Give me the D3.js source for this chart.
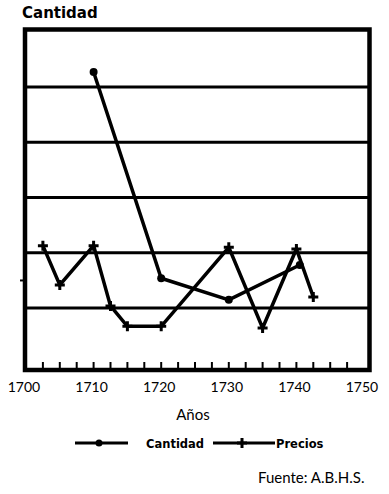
<!DOCTYPE html>
<meta charset="utf-8">
<style>
body { margin: 0; background: #fff; }
text { font-family: Lato, "DejaVu Sans", sans-serif; fill: #000; }
.title, .legendLabel { font-family: "DejaVu Sans", sans-serif; font-weight: bold; }
</style>
<body>
<script src="https://d3js.org/d3.v7.min.js"></script>
<script>
// values (y in grid units, gridlines at 1..5)
const precioYears  = [1702.5, 1705, 1710, 1712.5, 1715, 1720, 1730, 1735, 1740, 1742.5];
const precioVals   = [2.13, 1.42, 2.13, 1.04, 0.67, 0.67, 2.10, 0.64, 2.07, 1.20];
const cantidadYears = [1710, 1720, 1730, 1740.5];
const cantidadVals  = [5.27, 1.54, 1.15, 1.78];
const xTickLabels = [1700, 1710, 1720, 1730, 1740, 1750];
const gridLevels = [1, 2, 3, 4, 5];

const width = 389, height = 494;
const frameL = 25, frameR = 369.5, frameT = 29.5, frameB = 370;

const svg = d3.select("body").append("svg")
    .attr("width", width)
    .attr("height", height);

const x = d3.scaleLinear().domain([1700, 1750]).range([26, 364]);
const y = d3.scaleLinear().domain([-0.12, 6.04]).range([frameB, frameT]);

// gridlines
svg.append("g")
  .selectAll("line")
  .data(gridLevels)
  .join("line")
    .attr("x1", frameL).attr("x2", frameR)
    .attr("y1", d => y(d)).attr("y2", d => y(d))
    .attr("stroke", "#000")
    .attr("stroke-width", 3);

// small ticks inside the bottom edge every 2.5 years
svg.append("g")
  .selectAll("line")
  .data(d3.range(1702.5, 1750, 2.5))
  .join("line")
    .attr("x1", d => x(d)).attr("x2", d => x(d))
    .attr("y1", frameB).attr("y2", frameB - 8)
    .attr("stroke", "#000")
    .attr("stroke-width", 2);

// left tick outside the frame
svg.append("line")
    .attr("x1", frameL - 5).attr("x2", frameL)
    .attr("y1", y(1.5)).attr("y2", y(1.5))
    .attr("stroke", "#000").attr("stroke-width", 2);

// frame
svg.append("rect")
    .attr("x", frameL).attr("y", frameT)
    .attr("width", frameR - frameL).attr("height", frameB - frameT)
    .attr("fill", "none")
    .attr("stroke", "#000")
    .attr("stroke-width", 4.5);

// x labels
svg.append("g")
  .selectAll("text")
  .data(xTickLabels)
  .join("text")
    .attr("x", d => x(d) - 2)
    .attr("y", 392)
    .attr("text-anchor", "middle")
    .style("font-size", "14px")
    .text(d => d);

svg.append("text")
    .attr("x", 193).attr("y", 420)
    .attr("text-anchor", "middle")
    .style("font-size", "15px")
    .text("Años");

svg.append("text")
    .attr("class", "title")
    .attr("x", 22).attr("y", 18)
    .style("font-size", "15px")
    .text("Cantidad");

const line = d3.line().x(d => x(d[0])).y(d => y(d[1]));
const precios = precioYears.map((d, i) => [d, precioVals[i]]);
const cantidad = cantidadYears.map((d, i) => [d, cantidadVals[i]]);

function cross(g, cx, cy) {
  g.append("path")
    .attr("d", `M${cx - 5},${cy}H${cx + 5}M${cx},${cy - 5}V${cy + 5}`)
    .attr("stroke", "#000")
    .attr("stroke-width", 3)
    .attr("fill", "none");
}

svg.append("path")
    .datum(precios)
    .attr("d", line)
    .attr("fill", "none")
    .attr("stroke", "#000")
    .attr("stroke-width", 3.5)
    .attr("stroke-linejoin", "miter");

const marks = svg.append("g");
precios.forEach(d => cross(marks, x(d[0]), y(d[1])));

svg.append("path")
    .datum(cantidad)
    .attr("d", line)
    .attr("fill", "none")
    .attr("stroke", "#000")
    .attr("stroke-width", 3.5);

svg.append("g")
  .selectAll("circle")
  .data(cantidad)
  .join("circle")
    .attr("cx", d => x(d[0]))
    .attr("cy", d => y(d[1]))
    .attr("r", 4);

// legend
const lg = svg.append("g");
lg.append("line").attr("x1", 75).attr("x2", 128).attr("y1", 443).attr("y2", 443)
    .attr("stroke", "#000").attr("stroke-width", 3);
lg.append("circle").attr("cx", 99).attr("cy", 443).attr("r", 3.5);
lg.append("text").attr("class", "legendLabel")
    .attr("x", 146).attr("y", 448)
    .style("font-size", "11.5px")
    .text("Cantidad");
lg.append("line").attr("x1", 213).attr("x2", 275).attr("y1", 443).attr("y2", 443)
    .attr("stroke", "#000").attr("stroke-width", 3);
cross(lg, 242, 443);
lg.append("text").attr("class", "legendLabel")
    .attr("x", 276).attr("y", 448)
    .style("font-size", "11.5px")
    .text("Precios");

svg.append("text")
    .attr("x", 258).attr("y", 483)
    .style("font-size", "15px")
    .text("Fuente: A.B.H.S.");
</script>
</body>
